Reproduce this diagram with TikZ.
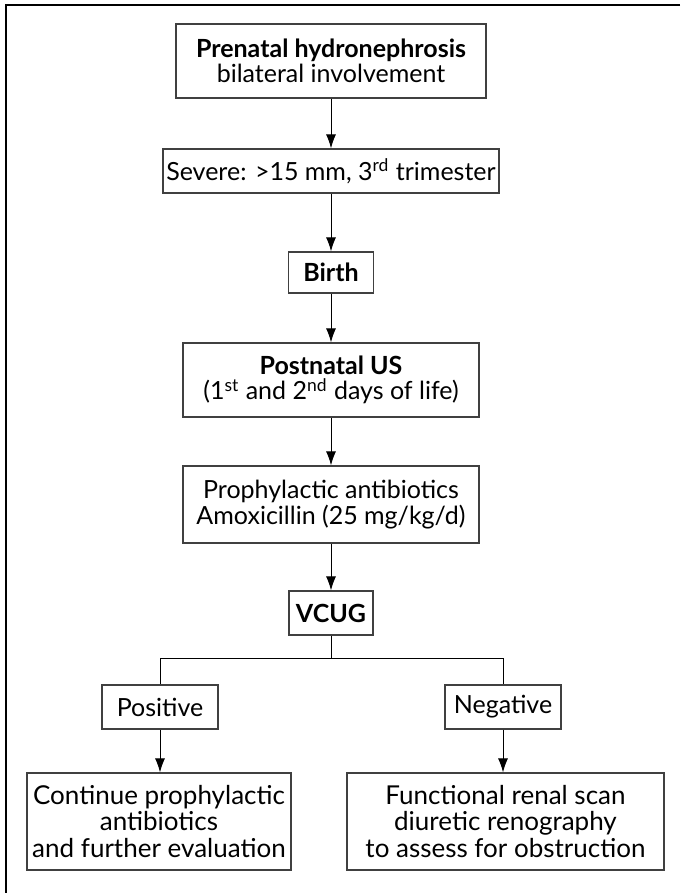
\documentclass[tikz,border=0pt]{standalone}
\usepackage{fontspec}
\setmainfont{Lato}
\usetikzlibrary{arrows.meta}

\begin{document}
\begin{tikzpicture}[x=0.5pt,y=-0.5pt,
    box/.style={draw=black!75, line width=0.6pt, align=center, inner sep=0pt,
        font=\fontsize{12.5}{12.8}\selectfont},
    tall/.style={font=\fontsize{13}{13.3}\selectfont},
    arr/.style={-{Latex[length=7pt,width=5pt]}, line width=0.5pt}]
\useasboundingbox (0,0) rectangle (680,893);
% open frame, top and left only
\draw[line width=1pt] (680,5) -- (6,5) -- (6,893);

\node[box, minimum width=155pt, minimum height=37pt] (prenatal) at (331,61)
    {\textbf{Prenatal hydronephrosis}\\bilateral involvement};
\node[box, minimum width=168pt, minimum height=22pt] (severe) at (331,171)
    {Severe: >15 mm, 3\textsuperscript{rd} trimester};
\node[box, minimum width=42.5pt, minimum height=20.5pt] (birth) at (331,272.5)
    {\textbf{Birth}};
\node[box, minimum width=148pt, minimum height=37pt] (postnatal) at (331,380)
    {\textbf{Postnatal US}\\(1\textsuperscript{st} and 2\textsuperscript{nd} days of life)};
\node[box, minimum width=148pt, minimum height=38.5pt] (proph) at (331,504.5)
    {Prophylactic antibiotics\\Amoxicillin (25 mg/kg/d)};
\node[box, minimum width=42pt, minimum height=22pt] (vcug) at (331,613)
    {\textbf{VCUG}};
\node[box, minimum width=58pt, minimum height=22pt] (pos) at (160,707) {Positive};
\node[box, minimum width=58pt, minimum height=22pt] (neg) at (503,707) {Negative};
\node[box, tall, minimum width=132pt, minimum height=48.5pt] (cont) at (159,821.5)
    {Continue prophylactic\\antibiotics\\and further evaluation};
\node[box, tall, minimum width=158.5pt, minimum height=48.5pt] (renal) at (505.5,821.5)
    {Functional renal scan\\diuretic renography\\to assess for obstruction};

\draw[arr] (prenatal) -- (severe);
\draw[arr] (severe) -- (birth);
\draw[arr] (birth) -- (postnatal);
\draw[arr] (postnatal) -- (proph);
\draw[arr] (proph) -- (vcug);
\draw[line width=0.5pt] (vcug.south) -- ++(0,23) coordinate (split);
\draw[line width=0.5pt] (pos.north) |- (split) -| (neg.north);
\draw[arr] (pos.south) -- (pos.south |- cont.north);
\draw[arr] (neg.south) -- (neg.south |- renal.north);

\end{tikzpicture}
\end{document}
